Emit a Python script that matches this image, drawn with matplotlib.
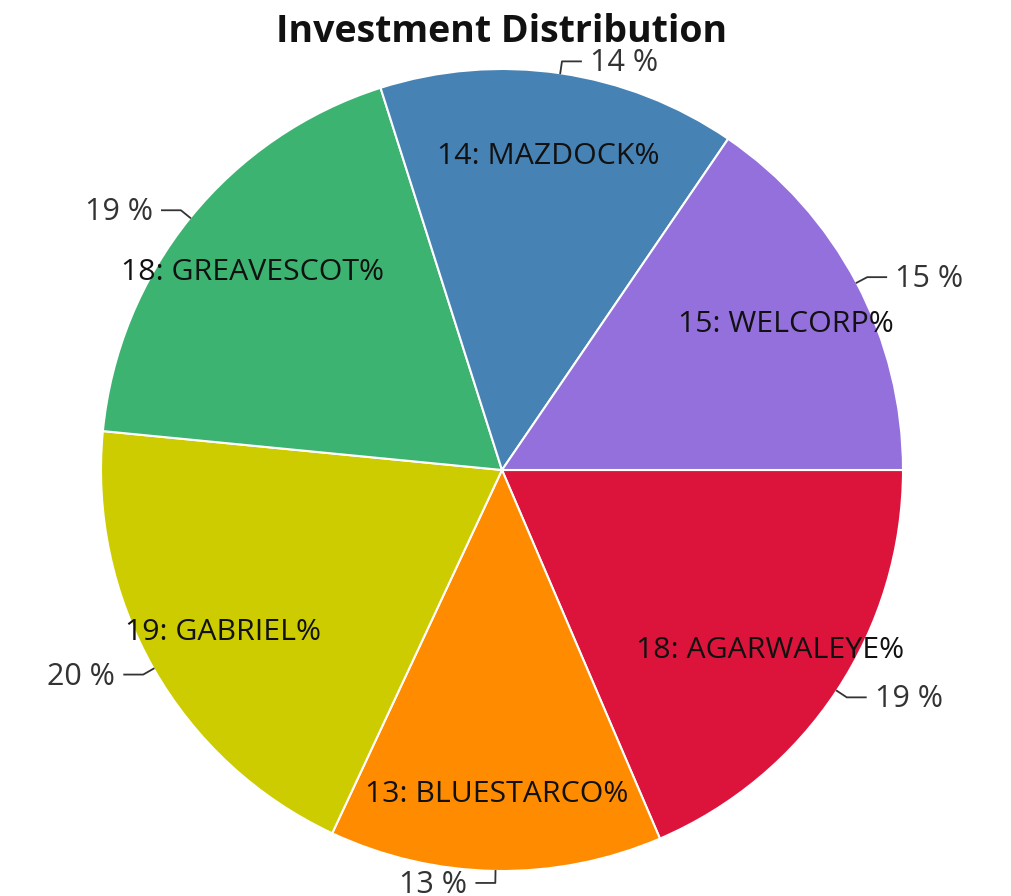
import numpy as np
import matplotlib
matplotlib.use('Agg')
import matplotlib.pyplot as plt

plt.rcParams['font.family'] = ['Open Sans', 'DejaVu Sans']

names = ['AGARWALEYE', 'BLUESTARCO', 'GABRIEL', 'GREAVESCOT', 'MAZDOCK', 'WELCORP']
values = [18, 13, 19, 18, 14, 15]
colors = ['#DC143C', '#FF8C00', '#CCCC00', '#3CB371', '#4682B4', '#9370DB']

W, H = 1011, 896
cx, cy, R = 502, H - 470, 401

fig = plt.figure(figsize=(W / 100, H / 100), dpi=100)
ax = fig.add_axes([0, 0, 1, 1])

wedges, _ = ax.pie(values, colors=colors, startangle=0, counterclock=False,
                   center=(cx, cy), radius=R, frame=True,
                   wedgeprops=dict(edgecolor='white', linewidth=1.5))
ax.set_xlim(0, W)
ax.set_ylim(0, H)
ax.set_aspect('equal')
ax.axis('off')

total = sum(values)
for w, name, v in zip(wedges, names, values):
    mid = np.deg2rad((w.theta1 + w.theta2) / 2)
    c, s = np.cos(mid), np.sin(mid)
    # inner label
    ax.text(cx + 0.8 * R * c, cy + 0.8 * R * s - 4, f'{v}: {name}%', ha='center', va='center',
            fontsize=21.8, color='#111111')
    # outer percent label with leader
    p0 = (cx + R * c, cy + R * s)
    p1 = (cx + (R + 12) * c, cy + (R + 12) * s)
    side = 1 if c >= 0 else -1
    p2 = (p1[0] + side * 19, p1[1])
    ax.plot([p0[0], p1[0], p2[0]], [p0[1], p1[1], p2[1]], color='#333333', lw=1.3)
    pct = round(v / total * 100)
    ax.text(p2[0] + side * 9, p2[1] - 2, f'{pct} %', ha='left' if side > 0 else 'right',
            va='center', fontsize=22, color='#333333')

fig.text(502 / W, 1 - 32 / H, 'Investment Distribution', ha='center', va='center',
         fontsize=27, fontweight='bold', color='#111111')

fig.savefig('out.png', dpi=100)
